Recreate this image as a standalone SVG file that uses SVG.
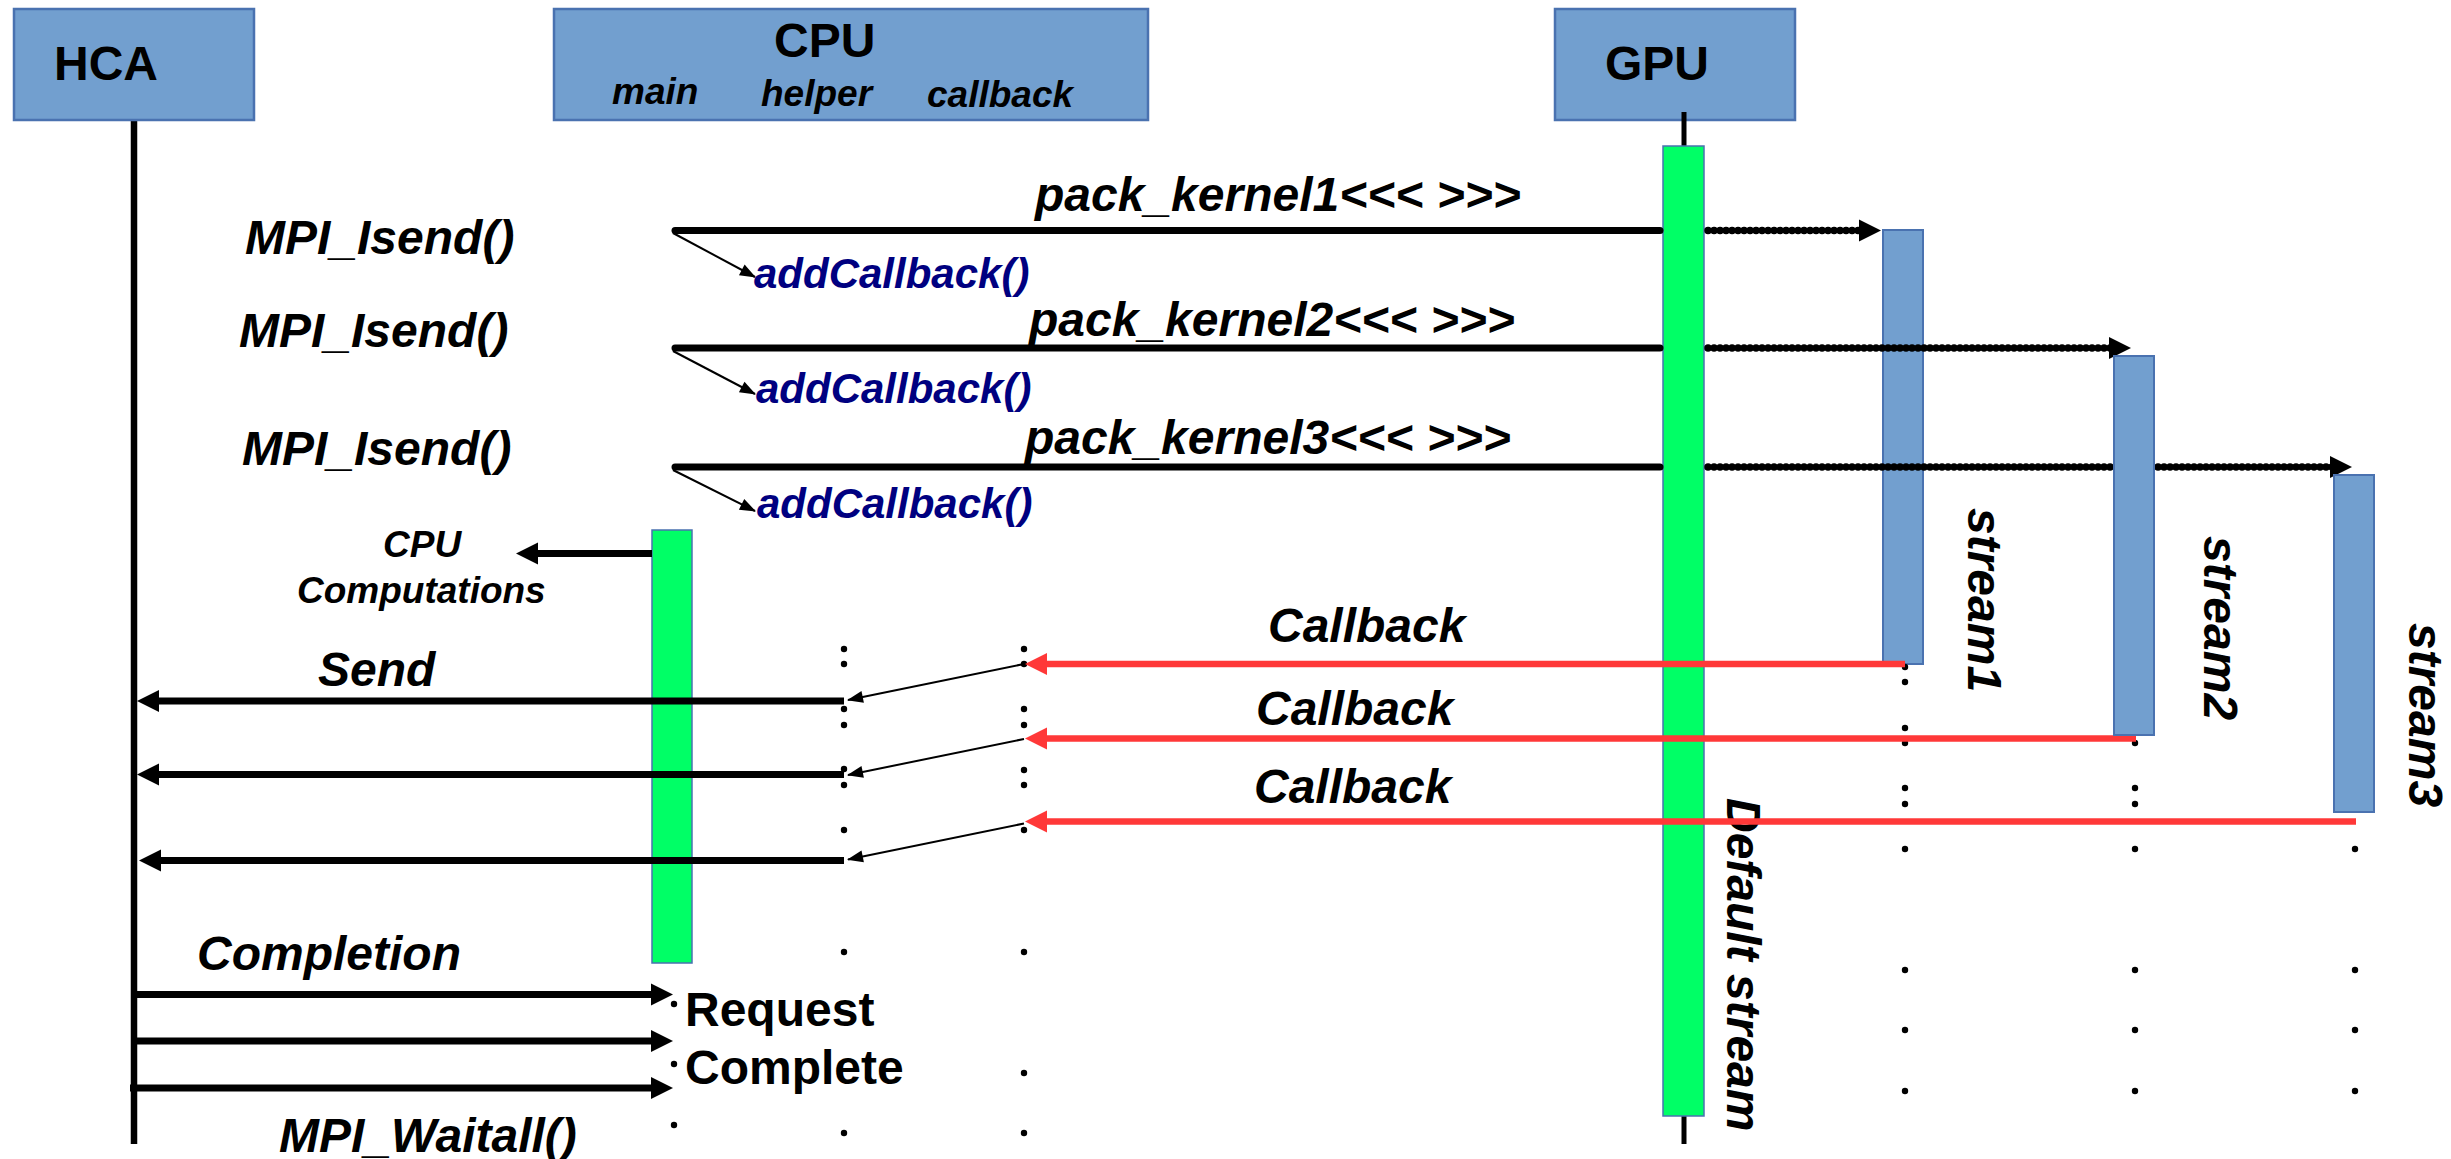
<svg xmlns="http://www.w3.org/2000/svg" width="2451" height="1159" viewBox="0 0 2451 1159">
  <defs>
    <style>
      .box{fill:#729fcf;stroke:#4a72b0;stroke-width:2.5}
      .act{fill:#00ff66;stroke:#4a72b0;stroke-width:1.5}
      .bar{fill:#729fcf;stroke:#4a72b0;stroke-width:2}
      .life{stroke:#000;stroke-width:6.5;fill:none}
      .t{font-family:"Liberation Sans",Arial,sans-serif;font-weight:bold;fill:#000}
      .i{font-style:italic}
      .f48{font-size:48px}
      .f37{font-size:37px}
      .cb{fill:#000080;font-size:42px}
      .call{stroke:#000;stroke-width:7;fill:none}
      .callr{stroke:#000;stroke-width:7;fill:none;stroke-linecap:round}
      .async{stroke:#000;stroke-width:7.5;stroke-dasharray:0.1 5.9;stroke-linecap:round;fill:none}
      .ret{stroke:#ff3838;stroke-width:6.5;fill:none}
      .thin{stroke:#000;stroke-width:2;fill:none}
      .dot{fill:#000}
    </style>
    <marker id="ah" markerUnits="userSpaceOnUse" markerWidth="22" markerHeight="22" refX="3" refY="11" orient="auto" overflow="visible">
      <path d="M0,0 L22,11 L0,22 z" fill="#000"/>
    </marker>
    <marker id="ahRed" markerUnits="userSpaceOnUse" markerWidth="22" markerHeight="22" refX="3" refY="11" orient="auto" overflow="visible">
      <path d="M0,0 L22,11 L0,22 z" fill="#ff3838"/>
    </marker>
    <marker id="ahThin" markerUnits="userSpaceOnUse" markerWidth="16" markerHeight="12" refX="15" refY="6" orient="auto" overflow="visible">
      <path d="M0,0 L16,6 L0,12 z" fill="#000"/>
    </marker>
  </defs>

  <rect width="2451" height="1159" fill="#fff"/>

  <!-- participants -->
  <g id="hca">
    <line class="life" x1="134" y1="120" x2="134" y2="1144"/>
    <rect class="box" x="14" y="9" width="240" height="111"/>
    <text class="t f48" x="54" y="80">HCA</text>
  </g>

  <g id="cpu">
    <rect class="box" x="554" y="9" width="594" height="111"/>
    <text class="t f48" x="774" y="57">CPU</text>
    <text class="t i f37" x="612" y="104">main</text>
    <text class="t i f37" x="761" y="106">helper</text>
    <text class="t i f37" x="927" y="107">callback</text>
  </g>

  <g id="gpu">
    <rect class="box" x="1555" y="9" width="240" height="111"/>
    <text class="t f48" x="1605" y="80">GPU</text>
    <line stroke="#000" stroke-width="5" x1="1684" y1="112" x2="1684" y2="146"/>
    <line stroke="#000" stroke-width="5" x1="1684" y1="1116" x2="1684" y2="1144"/>
  </g>

  <g id="cpu-main-activity">
    <rect class="act" x="652" y="530" width="40" height="433"/>
  </g>

  <g id="default-stream">
    <rect class="act" x="1663" y="146" width="41" height="970"/>
    <text class="t i f48" transform="translate(1727,798) rotate(90)">Default stream</text>
  </g>

  <g id="stream1">
    <rect class="bar" x="1883" y="230" width="40" height="434"/>
    <text class="t i f48" transform="translate(1968,508) rotate(90)">stream1</text>
  </g>

  <!-- lifeline dots -->
  <g id="lifeline-dots" class="dot">
    <circle cx="674" cy="1004" r="3.2"/>
    <circle cx="674" cy="1064" r="3.2"/>
    <circle cx="674" cy="1125" r="3.2"/>

    <circle cx="844" cy="649" r="3.2"/>
    <circle cx="844" cy="664" r="3.2"/>
    <circle cx="844" cy="709" r="3.2"/>
    <circle cx="844" cy="725" r="3.2"/>
    <circle cx="844" cy="769" r="3.2"/>
    <circle cx="844" cy="785" r="3.2"/>
    <circle cx="844" cy="830" r="3.2"/>
    <circle cx="844" cy="952" r="3.2"/>
    <circle cx="844" cy="1133" r="3.2"/>

    <circle cx="1024" cy="649" r="3.2"/>
    <circle cx="1024" cy="664" r="3.2"/>
    <circle cx="1024" cy="709" r="3.2"/>
    <circle cx="1024" cy="725" r="3.2"/>
    <circle cx="1024" cy="770" r="3.2"/>
    <circle cx="1024" cy="785" r="3.2"/>
    <circle cx="1024" cy="830" r="3.2"/>
    <circle cx="1024" cy="952" r="3.2"/>
    <circle cx="1024" cy="1073" r="3.2"/>
    <circle cx="1024" cy="1133" r="3.2"/>

    <circle cx="1905" cy="667" r="3.2"/>
    <circle cx="1905" cy="682" r="3.2"/>
    <circle cx="1905" cy="728" r="3.2"/>
    <circle cx="1905" cy="743" r="3.2"/>
    <circle cx="1905" cy="788" r="3.2"/>
    <circle cx="1905" cy="804" r="3.2"/>
    <circle cx="1905" cy="849" r="3.2"/>
    <circle cx="1905" cy="970" r="3.2"/>
    <circle cx="1905" cy="1030" r="3.2"/>
    <circle cx="1905" cy="1091" r="3.2"/>

    <circle cx="2135" cy="743" r="3.2"/>
    <circle cx="2135" cy="788" r="3.2"/>
    <circle cx="2135" cy="804" r="3.2"/>
    <circle cx="2135" cy="849" r="3.2"/>
    <circle cx="2135" cy="970" r="3.2"/>
    <circle cx="2135" cy="1030" r="3.2"/>
    <circle cx="2135" cy="1091" r="3.2"/>

    <circle cx="2355" cy="849" r="3.2"/>
    <circle cx="2355" cy="970" r="3.2"/>
    <circle cx="2355" cy="1030" r="3.2"/>
    <circle cx="2355" cy="1091" r="3.2"/>
  </g>

  <!-- messages -->
  <g id="connectors">
    <!-- kernel launches from main thread to the default stream -->
    <line class="callr" x1="675" y1="230.5" x2="1660" y2="230.5"/>
    <line class="callr" x1="675" y1="348" x2="1660" y2="348"/>
    <line class="callr" x1="675" y1="467" x2="1660" y2="467"/>

    <!-- callback registration -->
    <line class="thin" x1="673" y1="233" x2="755" y2="277" marker-end="url(#ahThin)"/>
    <line class="thin" x1="673" y1="351" x2="755" y2="394" marker-end="url(#ahThin)"/>
    <line class="thin" x1="673" y1="470" x2="755" y2="511" marker-end="url(#ahThin)"/>

    <!-- dispatch to streams -->
    <line class="async" x1="1708" y1="230.5" x2="1862" y2="230.5" marker-end="url(#ah)"/>
    <line class="async" x1="1708" y1="348" x2="2112" y2="348" marker-end="url(#ah)"/>
    <line class="async" x1="1708" y1="467" x2="2333" y2="467" marker-end="url(#ah)"/>

    <!-- CPU computations -->
    <line class="call" x1="652" y1="553.5" x2="535" y2="553.5" marker-end="url(#ah)"/>

    <!-- stream callbacks -->
    <line class="ret" x1="1905" y1="664" x2="1044" y2="664" marker-end="url(#ahRed)"/>
    <line class="ret" x1="2136" y1="738.5" x2="1044" y2="738.5" marker-end="url(#ahRed)"/>
    <line class="ret" x1="2356" y1="821.5" x2="1044" y2="821.5" marker-end="url(#ahRed)"/>

    <!-- callback thread to helper thread -->
    <line class="thin" x1="1024" y1="664" x2="848" y2="700" marker-end="url(#ahThin)"/>
    <line class="thin" x1="1024" y1="739" x2="848" y2="775" marker-end="url(#ahThin)"/>
    <line class="thin" x1="1024" y1="823.5" x2="848" y2="859.5" marker-end="url(#ahThin)"/>

    <!-- sends to HCA -->
    <line class="call" stroke-width="8" x1="844" y1="701" x2="156" y2="701" marker-end="url(#ah)"/>
    <line class="call" stroke-width="8" x1="844" y1="774.5" x2="156" y2="774.5" marker-end="url(#ah)"/>
    <line class="call" stroke-width="8" x1="844" y1="860.5" x2="158" y2="860.5" marker-end="url(#ah)"/>

    <!-- completions from HCA -->
    <line class="call" x1="134" y1="994.5" x2="654" y2="994.5" marker-end="url(#ah)"/>
    <line class="call" x1="134" y1="1041" x2="654" y2="1041" marker-end="url(#ah)"/>
    <line class="call" x1="130" y1="1088" x2="654" y2="1088" marker-end="url(#ah)"/>
  </g>

  <g id="stream2">
    <rect class="bar" x="2114" y="356" width="40" height="379"/>
    <text class="t i f48" transform="translate(2204,536) rotate(90)">stream2</text>
  </g>

  <g id="stream3">
    <rect class="bar" x="2334" y="475" width="40" height="337"/>
    <text class="t i f48" transform="translate(2409,623) rotate(90)">stream3</text>
  </g>

  <!-- message labels -->
  <g id="labels">
    <text class="t i f48" x="245" y="254">MPI_Isend()</text>
    <text class="t i f48" x="239" y="347">MPI_Isend()</text>
    <text class="t i f48" x="242" y="465">MPI_Isend()</text>

    <text class="t i f48" x="1035" y="211">pack_kernel1&lt;&lt;&lt; &gt;&gt;&gt;</text>
    <text class="t i f48" x="1029" y="336">pack_kernel2&lt;&lt;&lt; &gt;&gt;&gt;</text>
    <text class="t i f48" x="1025" y="453.5">pack_kernel3&lt;&lt;&lt; &gt;&gt;&gt;</text>

    <text class="t i cb" x="754" y="287.5">addCallback()</text>
    <text class="t i cb" x="756" y="403">addCallback()</text>
    <text class="t i cb" x="757" y="518">addCallback()</text>

    <text class="t i f37" x="383" y="557">CPU</text>
    <text class="t i f37" x="297" y="603">Computations</text>

    <text class="t i f48" x="1268" y="642">Callback</text>
    <text class="t i f48" x="1256" y="725">Callback</text>
    <text class="t i f48" x="1254" y="802.5">Callback</text>

    <text class="t i f48" x="318" y="686">Send</text>
    <text class="t i f48" x="197" y="969.5">Completion</text>
    <text class="t f48" x="685" y="1025.5">Request</text>
    <text class="t f48" x="685" y="1084">Complete</text>
    <text class="t i f48" x="279" y="1152">MPI_Waitall()</text>
  </g>
</svg>
